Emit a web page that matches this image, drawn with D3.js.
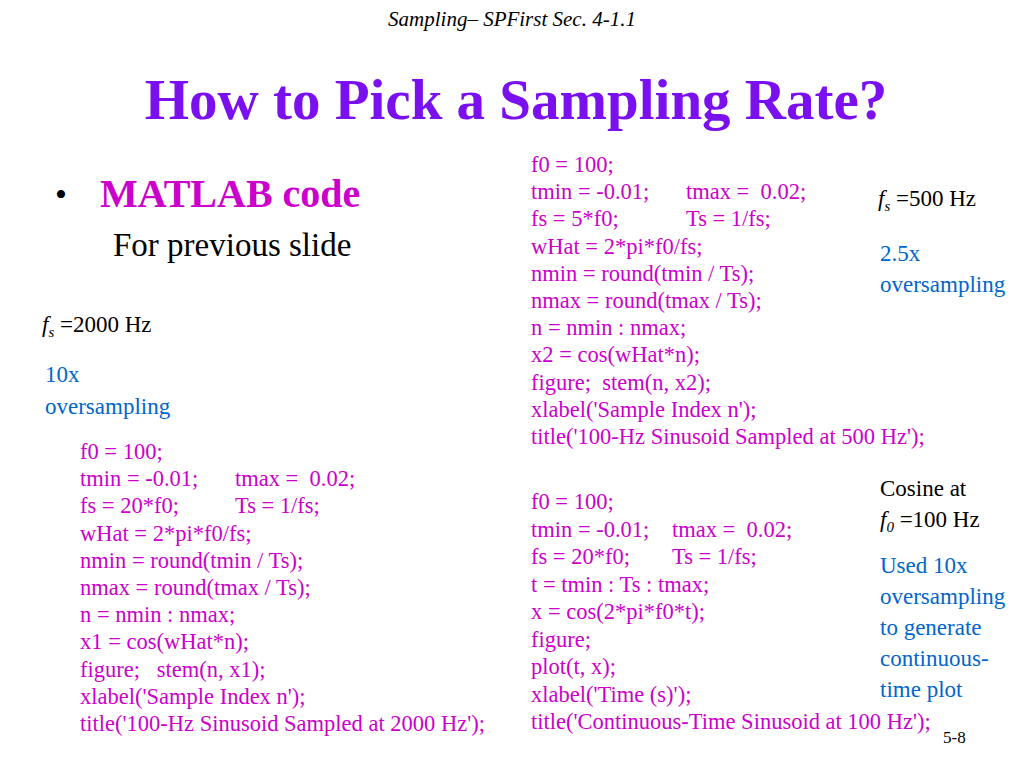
<!DOCTYPE html>
<html><head><meta charset="utf-8">
<script src="https://cdn.jsdelivr.net/npm/d3@7"></script>
<style>body{margin:0;background:#fff} text{white-space:pre}</style>
</head><body>
<script>
// slide text, kept as small arrays
var codeLeft = [["f0 = 100;",""],["tmin = -0.01;","tmax =  0.02;"],["fs = 20*f0;","Ts = 1/fs;"],["wHat = 2*pi*f0/fs;",""],["nmin = round(tmin / Ts);",""],["nmax = round(tmax / Ts);",""],["n = nmin : nmax;",""],["x1 = cos(wHat*n);",""],["figure;   stem(n, x1);",""],["xlabel('Sample Index n');",""],["title('100-Hz Sinusoid Sampled at 2000 Hz');",""]];
var codeTop = [["f0 = 100;",""],["tmin = -0.01;","tmax =  0.02;"],["fs = 5*f0;","Ts = 1/fs;"],["wHat = 2*pi*f0/fs;",""],["nmin = round(tmin / Ts);",""],["nmax = round(tmax / Ts);",""],["n = nmin : nmax;",""],["x2 = cos(wHat*n);",""],["figure;  stem(n, x2);",""],["xlabel('Sample Index n');",""],["title('100-Hz Sinusoid Sampled at 500 Hz');",""]];
var codeBottom = [["f0 = 100;",""],["tmin = -0.01;","tmax =  0.02;"],["fs = 20*f0;","Ts = 1/fs;"],["t = tmin : Ts : tmax;",""],["x = cos(2*pi*f0*t);",""],["figure;",""],["plot(t, x);",""],["xlabel('Time (s)');",""],["title('Continuous-Time Sinusoid at 100 Hz');",""]];
var blueLeft = ["10x","oversampling"];
var blueTop = ["2.5x","oversampling"];
var blueBottom = ["Used 10x","oversampling","to generate","continuous-","time plot"];

var magenta = "#cc00cc", blue = "#0066cc";
var svg = d3.select("body").append("svg").attr("width",1024).attr("height",768)
    .style("font-family","'Liberation Serif', 'Times New Roman', serif");

svg.append("text").attr("x",512).attr("y",26).attr("text-anchor","middle")
    .attr("font-size",21).attr("font-style","italic").text("Sampling\u2013 SPFirst Sec. 4-1.1");
svg.append("text").attr("x",516).attr("y",119).attr("text-anchor","middle")
    .attr("font-size",57).attr("font-weight","bold").attr("fill","#7a0ff0").text("How to Pick a Sampling Rate?");
svg.append("text").attr("x",55).attr("y",206).attr("font-size",34).text("\u2022");
svg.append("text").attr("x",100).attr("y",207).attr("font-size",40).attr("font-weight","bold").attr("fill",magenta).text("MATLAB code");
svg.append("text").attr("x",113).attr("y",256).attr("font-size",33).text("For previous slide");

function drawCode(lines, x, x2, y0, step) {
    var g = svg.append("g").attr("fill",magenta).attr("font-size",22.5);
    lines.forEach(function(l, i) {
        g.append("text").attr("x",x).attr("y",y0+i*step).text(l[0]);
        if (l[1]) g.append("text").attr("x",x2).attr("y",y0+i*step).text(l[1]);
    });
}
drawCode(codeLeft, 80, 235, 459, 27.2);
drawCode(codeTop, 531, 686, 172, 27.2);
drawCode(codeBottom, 531, 672, 509, 27.5);

function drawLines(lines, x, y0, step, color) {
    lines.forEach(function(t, i) {
        svg.append("text").attr("x",x).attr("y",y0+i*step).attr("font-size",23)
            .attr("fill",color).text(t);
    });
}
drawLines(blueLeft, 45, 382, 32, blue);
drawLines(blueTop, 880, 261, 31, blue);
drawLines(blueBottom, 880, 573, 31, blue);
drawLines(["Cosine at"], 880, 496, 31, "#000");

function fsLabel(x, y, sub, rest) {
    var t = svg.append("text").attr("x",x).attr("y",y).attr("font-size",23);
    t.append("tspan").attr("font-style","italic").text("f");
    t.append("tspan").attr("font-style","italic").attr("font-size",15).attr("dy",5).text(sub);
    t.append("tspan").attr("dy",-5).text(" =" + rest);
}
fsLabel(42, 332, "s", "2000 Hz");
fsLabel(878, 206, "s", "500 Hz");
fsLabel(880, 527, "0", "100 Hz");

svg.append("text").attr("x",943).attr("y",743).attr("font-size",17).text("5-8");
</script>
</body></html>
